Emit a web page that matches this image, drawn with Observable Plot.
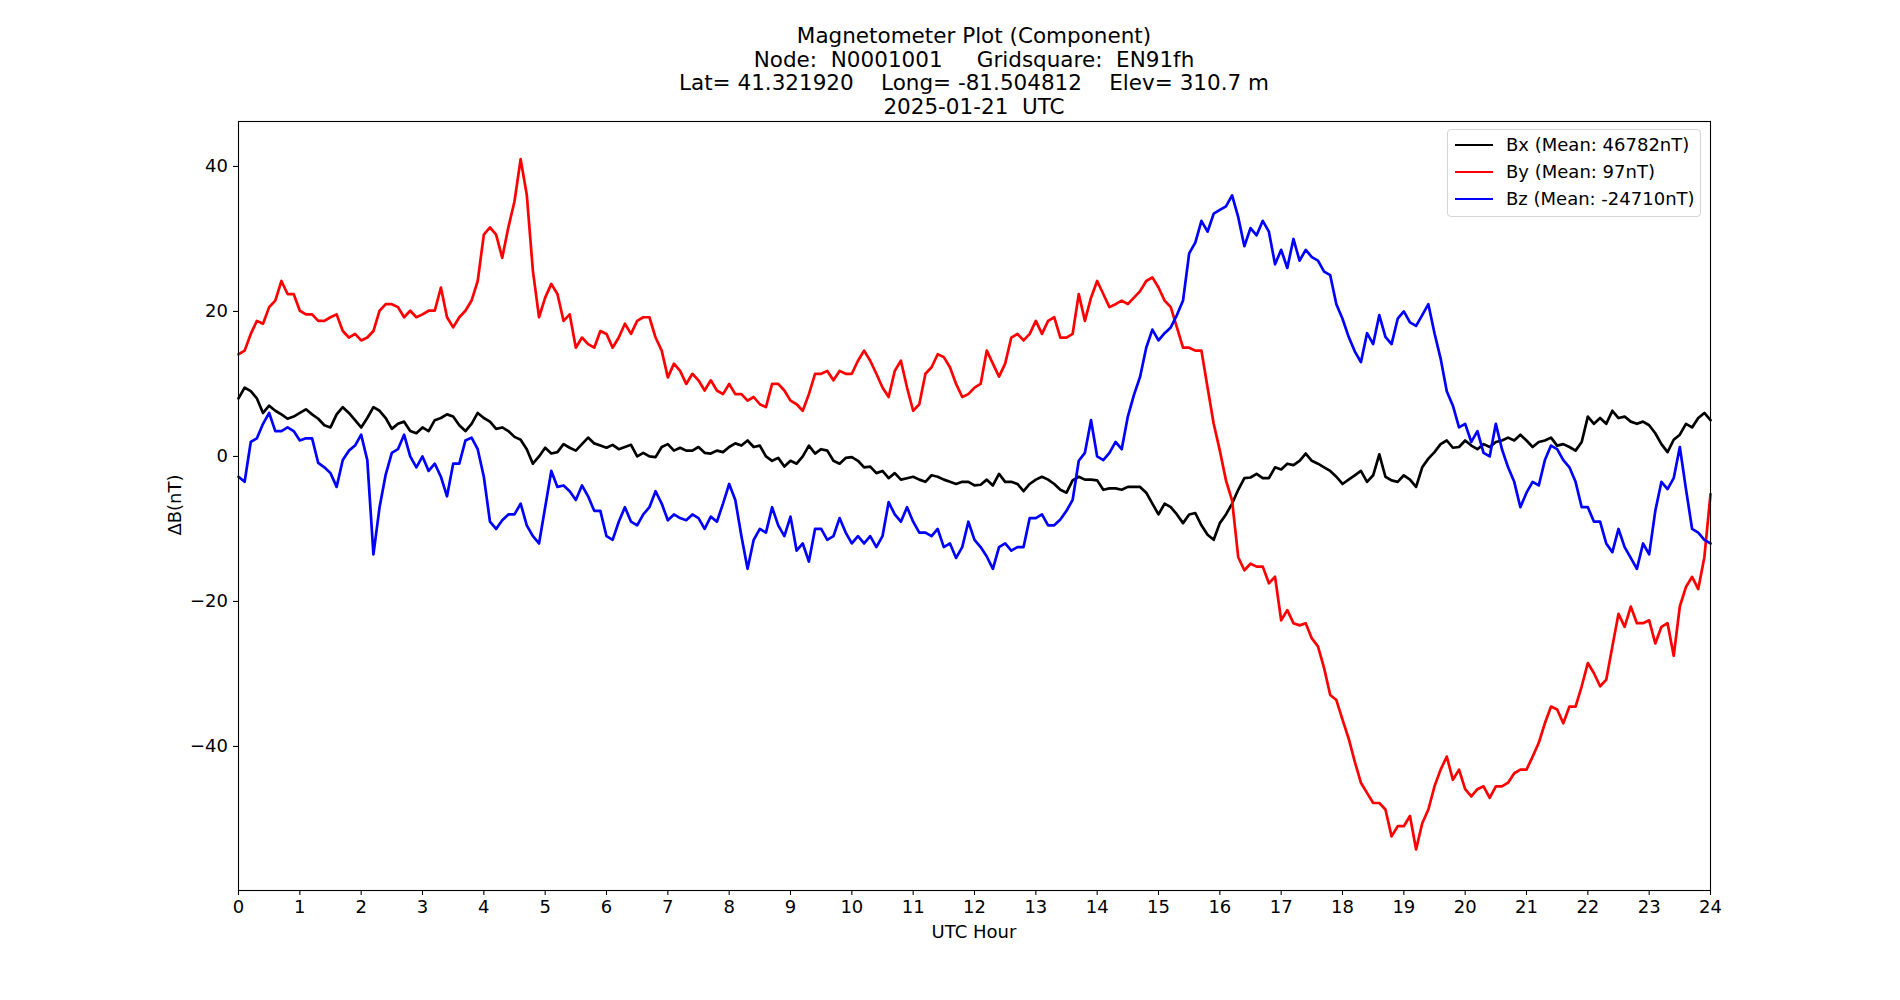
<!DOCTYPE html>
<html>
<head>
<meta charset="utf-8">
<script src="https://cdn.jsdelivr.net/npm/d3@7"></script>
<script src="https://cdn.jsdelivr.net/npm/@observablehq/plot@0.6"></script>
<style>
  html, body { margin: 0; padding: 0; background: #fff; }
  #wrap { position: relative; width: 1900px; height: 1000px; font-family: "DejaVu Sans", sans-serif; color: #000; }
  #chart { position: absolute; left: 0; top: 0; }
  .title { position: absolute; left: 474px; width: 1000px; top: 24px; text-align: center; font-size: 21.5px; line-height: 23.6px; white-space: pre; }
  .xlabel { position: absolute; left: 874px; width: 200px; top: 921px; text-align: center; font-size: 18px; line-height: 22px; }
  .ylabel { position: absolute; left: 75px; width: 200px; top: 494px; text-align: center; font-size: 18px; line-height: 22px; transform: rotate(-90deg); }
  .legend { position: absolute; left: 1447px; top: 129px; width: 252px; height: 86px; border: 1px solid #d5d5d5; border-radius: 4px; background: rgba(255,255,255,0.8); }
  .legend .row { position: absolute; left: 0; height: 22px; font-size: 18px; line-height: 22px; white-space: pre; }
  .legend .sw { position: absolute; left: 7px; top: 10px; width: 38px; height: 2px; }
  .legend .lb { position: absolute; left: 58px; top: 0; }
</style>
</head>
<body>
<div id="wrap">
  <div id="chart"></div>
  <div class="title" id="title"></div>
  <div class="xlabel" id="xlabel"></div>
  <div class="ylabel" id="ylabel"></div>
  <div class="legend" id="legend"></div>
</div>
<script>
// ---- Text ----
const titleLines = [
  "Magnetometer Plot (Component)",
  "Node:  N0001001     Gridsquare:  EN91fh",
  "Lat= 41.321920    Long= -81.504812    Elev= 310.7 m",
  "2025-01-21  UTC"
];
const xLabel = "UTC Hour";
const yLabel = "ΔB(nT)";

// ---- Series meta ----
const seriesNames = ["Bx", "By", "Bz"];
const seriesColors = ["black", "red", "blue"];
const seriesMeans = [46782, 97, -24710];

// ---- Ticks ----
const xTicks = [0,1,2,3,4,5,6,7,8,9,10,11,12,13,14,15,16,17,18,19,20,21,22,23,24];
const yTicks = [-40, -20, 0, 20, 40];

// ---- Sample hours (every 0.1 h, 0 .. 24) ----
const hours = d3.range(241).map(i => +(i / 10).toFixed(1));

// ---- ΔB values (nT), one per 0.1 h ----
const bx = [
  8.0, 9.5, 9.0, 8.0, 6.0, 7.0, 6.3, 5.8, 5.2, 5.5,
  6.0, 6.5, 5.8, 5.2, 4.3, 4.0, 5.8, 6.8, 6.0, 5.0,
  4.0, 5.3, 6.8, 6.3, 5.3, 3.8, 4.5, 4.8, 3.5, 3.2,
  4.0, 3.5, 5.0, 5.3, 5.8, 5.5, 4.3, 3.5, 4.5, 6.0,
  5.3, 4.8, 3.8, 4.0, 3.5, 2.7, 2.3, 1.0, -1.0, 0.0,
  1.2, 0.4, 0.6, 1.7, 1.2, 0.8, 1.7, 2.6, 1.8, 1.5,
  1.2, 1.6, 1.0, 1.3, 1.6, 0.0, 0.5, 0.0, -0.1, 1.3,
  1.7, 0.8, 1.2, 0.8, 0.8, 1.3, 0.5, 0.4, 0.8, 0.6,
  1.3, 1.8, 1.5, 2.2, 1.3, 1.5, 0.0, -0.6, -0.2, -1.4,
  -0.6, -1.0, 0.0, 1.5, 0.4, 1.0, 0.8, -0.6, -1.0, -0.2,
  -0.1, -0.6, -1.5, -1.4, -2.3, -2.0, -3.0, -2.3, -3.2, -3.0,
  -2.8, -3.2, -3.5, -2.6, -2.8, -3.2, -3.5, -3.8, -3.5, -3.5,
  -4.0, -3.9, -3.2, -4.0, -2.4, -3.5, -3.5, -3.8, -4.8, -3.8,
  -3.2, -2.8, -3.2, -3.8, -4.6, -5.0, -3.3, -2.8, -3.2, -3.2,
  -3.3, -4.6, -4.4, -4.4, -4.6, -4.2, -4.2, -4.2, -5.0, -6.5,
  -8.0, -6.5, -7.0, -8.0, -9.2, -8.0, -7.8, -9.5, -10.8, -11.5,
  -9.2, -8.0, -6.5, -4.6, -3.0, -2.9, -2.4, -3.0, -3.0, -1.5,
  -1.8, -1.0, -1.2, -0.6, 0.4, -0.6, -1.0, -1.5, -2.0, -2.8,
  -3.8, -3.2, -2.6, -2.0, -3.5, -2.6, 0.3, -2.8, -3.3, -3.5,
  -2.6, -3.2, -4.2, -1.5, -0.3, 0.6, 1.7, 2.2, 1.2, 1.3,
  2.2, 1.5, 1.0, 1.7, 1.3, 2.0, 2.2, 2.6, 2.2, 3.0,
  2.2, 1.3, 2.0, 2.2, 2.6, 1.5, 1.7, 1.3, 0.8, 2.0,
  5.5, 4.5, 5.3, 4.5, 6.3, 5.3, 5.5, 4.8, 4.5, 4.8,
  4.3, 3.2, 1.7, 0.6, 2.3, 3.0, 4.5, 4.0, 5.3, 6.0,
  5.0
];
const by = [
  14.1, 14.6, 16.9, 18.7, 18.3, 20.6, 21.5, 24.2, 22.4, 22.4,
  20.1, 19.6, 19.6, 18.7, 18.7, 19.2, 19.6, 17.3, 16.4, 16.9,
  16.0, 16.4, 17.3, 20.1, 21.0, 21.0, 20.6, 19.2, 20.1, 19.2,
  19.6, 20.1, 20.1, 23.3, 19.2, 17.8, 19.2, 20.1, 21.5, 24.2,
  30.6, 31.6, 30.6, 27.4, 31.6, 35.2, 41.0, 36.1, 25.6, 19.2,
  21.9, 23.8, 22.4, 18.7, 19.6, 15.0, 16.4, 15.5, 15.0, 17.3,
  16.9, 15.0, 16.4, 18.3, 16.9, 18.7, 19.2, 19.2, 16.4, 14.6,
  10.9, 12.8, 11.8, 10.0, 11.4, 10.5, 9.1, 10.5, 9.1, 8.6,
  10.0, 8.6, 8.6, 7.7, 8.2, 7.2, 6.8, 10.0, 10.0, 9.1,
  7.7, 7.2, 6.3, 8.6, 11.4, 11.4, 11.8, 10.5, 11.8, 11.4,
  11.4, 13.2, 14.6, 13.2, 11.4, 9.5, 8.2, 11.8, 13.2, 9.5,
  6.3, 7.2, 11.4, 12.3, 14.1, 13.7, 12.3, 10.0, 8.2, 8.6,
  9.5, 10.0, 14.6, 12.8, 11.0, 12.8, 16.4, 16.9, 16.0, 16.9,
  18.7, 16.9, 18.7, 19.2, 16.4, 16.4, 16.9, 22.4, 18.7, 21.9,
  24.2, 22.4, 20.6, 21.0, 21.5, 21.0, 21.9, 22.8, 24.2, 24.7,
  23.3, 21.5, 20.6, 17.8, 15.0, 15.0, 14.6, 14.6, 9.5, 4.5,
  0.8, -3.3, -6.1, -13.9, -15.7, -14.8, -15.2, -15.2, -17.5, -16.6,
  -22.6, -21.2, -23.0, -23.3, -23.0, -25.1, -26.2, -29.2, -32.9, -33.6,
  -36.3, -38.9, -42.1, -45.0, -46.4, -47.8, -47.8, -48.7, -52.4, -51.0,
  -51.0, -49.6, -54.2, -50.6, -48.7, -45.5, -43.2, -41.4, -44.6, -43.2,
  -45.9, -46.9, -45.9, -45.5, -47.1, -45.5, -45.5, -45.0, -43.7, -43.2,
  -43.2, -41.4, -39.5, -36.8, -34.5, -34.9, -36.8, -34.5, -34.5, -31.7,
  -28.5, -29.9, -31.7, -30.8, -26.2, -21.7, -23.5, -20.7, -23.0, -23.0,
  -22.6, -25.8, -23.5, -23.0, -27.5, -20.7, -18.0, -16.6, -18.3, -13.9,
  -5.2
];
const bz = [
  -2.8, -3.5, 2.0, 2.5, 4.5, 6.0, 3.5, 3.5, 4.0, 3.5,
  2.2, 2.5, 2.5, -0.9, -1.5, -2.3, -4.2, -0.5, 0.8, 1.5,
  3.0, -0.5, -13.5, -7.0, -2.5, 0.5, 1.0, 3.0, 0.0, -1.5,
  0.0, -2.0, -1.0, -2.8, -5.5, -1.0, -1.0, 2.2, 2.6, 1.0,
  -2.8, -9.0, -10.0, -8.8, -8.0, -8.0, -6.5, -9.5, -11.0, -12.0,
  -7.0, -2.0, -4.2, -4.0, -4.8, -6.0, -4.0, -5.5, -7.5, -7.5,
  -11.0, -11.5, -9.0, -7.0, -9.0, -9.5, -8.0, -7.0, -4.8, -6.5,
  -8.8, -8.0, -8.5, -8.8, -8.0, -8.5, -10.0, -8.3, -9.0, -6.5,
  -3.8, -6.0, -11.0, -15.5, -11.5, -10.0, -10.5, -7.0, -9.5, -11.0,
  -8.3, -13.0, -12.0, -14.5, -10.0, -10.0, -11.5, -11.0, -8.5, -10.5,
  -12.0, -11.0, -12.0, -11.0, -12.5, -11.0, -6.3, -8.0, -9.0, -7.0,
  -9.0, -10.5, -10.5, -11.0, -10.0, -12.5, -12.0, -14.0, -12.5, -9.0,
  -11.5, -12.5, -13.8, -15.5, -12.5, -12.0, -13.0, -12.5, -12.5, -8.5,
  -8.5, -8.0, -9.5, -9.5, -8.7, -7.5, -6.0, -0.6, 0.5, 5.0,
  0.0, -0.5, 0.5, 2.0, 1.0, 5.5, 8.5, 11.0, 15.0, 17.5,
  16.0, 17.0, 17.8, 19.5, 21.5, 28.0, 29.5, 32.5, 31.0, 33.5,
  34.0, 34.5, 36.0, 33.0, 29.0, 31.5, 30.5, 32.5, 31.0, 26.5,
  28.5, 26.0, 30.0, 27.0, 28.5, 27.5, 27.0, 25.5, 25.0, 21.0,
  19.0, 16.5, 14.5, 13.0, 17.0, 15.5, 19.5, 16.5, 15.5, 19.0,
  20.0, 18.5, 18.0, 19.5, 21.0, 17.0, 13.5, 9.0, 7.0, 4.0,
  4.5, 2.0, 3.5, 0.5, 0.0, 4.5, 1.0, -1.5, -3.5, -7.0,
  -5.0, -3.5, -4.0, -0.5, 1.5, 1.0, -0.5, -1.5, -3.5, -7.0,
  -7.0, -9.0, -9.0, -12.0, -13.2, -10.0, -12.5, -14.0, -15.5, -12.0,
  -13.5, -7.5, -3.5, -4.5, -3.0, 1.3, -4.5, -10.0, -10.5, -11.5,
  -12.0
];

// ---- Build long table ----
const seriesValues = [bx, by, bz];
const rows = [];
seriesNames.forEach((name, s) => {
  hours.forEach((h, i) => rows.push({ series: name, hour: h, value: seriesValues[s][i] }));
});

const minusFmt = d3.format("d");

const chart = Plot.plot({
  width: 1900,
  height: 1000,
  marginLeft: 238,
  marginRight: 190,
  marginTop: 121,
  marginBottom: 110,
  style: { fontFamily: "DejaVu Sans", fontSize: "18px", color: "black", background: "white", overflow: "visible" },
  x: { domain: [0, 24] },
  y: { domain: [-59.87, 46.2] },
  color: { domain: seriesNames, range: seriesColors },
  marks: [
    Plot.line(rows, { x: "hour", y: "value", z: "series", stroke: "series", strokeWidth: 2.7, strokeLinejoin: "round" }),
    Plot.frame({ stroke: "black", strokeWidth: 1.1 }),
    Plot.axisX({ ticks: xTicks, tickSize: 5, tickPadding: 4.5, label: null, tickFormat: d => String(d), fontSize: 18, strokeWidth: 1.1 }),
    Plot.axisY({ ticks: yTicks, tickSize: 5, tickPadding: 5.5, label: null, tickFormat: minusFmt, fontSize: 18, strokeWidth: 1.1 })
  ]
});
document.getElementById("chart").appendChild(chart);

// ---- Text overlays ----
document.getElementById("title").textContent = titleLines.join("\n");
document.getElementById("xlabel").textContent = xLabel;
document.getElementById("ylabel").textContent = yLabel;

const legend = document.getElementById("legend");
seriesNames.forEach((name, i) => {
  const row = document.createElement("div");
  row.className = "row";
  row.style.top = (4 + i * 27) + "px";
  row.style.width = "250px";
  const sw = document.createElement("div");
  sw.className = "sw";
  sw.style.background = seriesColors[i];
  const lb = document.createElement("div");
  lb.className = "lb";
  lb.textContent = `${name} (Mean: ${seriesMeans[i]}nT)`;
  row.appendChild(sw);
  row.appendChild(lb);
  legend.appendChild(row);
});
</script>
</body>
</html>
